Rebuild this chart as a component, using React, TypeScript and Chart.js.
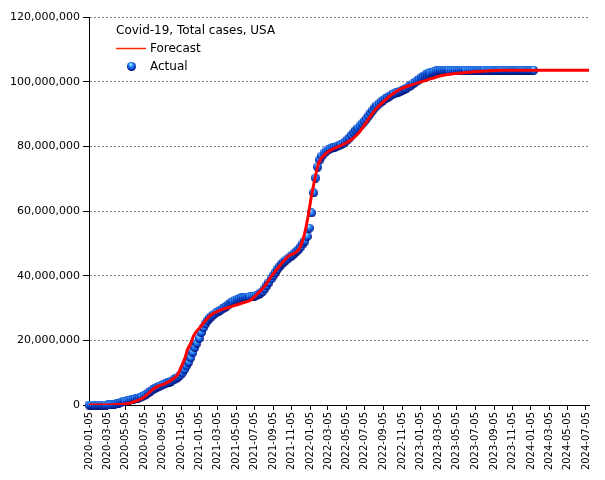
import React, { useEffect, useRef } from "react";
import { Chart, registerables } from "chart.js";

Chart.register(...registerables);

// ---------- data ----------
const X_TICK_LABELS = [
  "2020-01-05", "2020-03-05", "2020-05-05", "2020-07-05", "2020-09-05", "2020-11-05",
  "2021-01-05", "2021-03-05", "2021-05-05", "2021-07-05", "2021-09-05", "2021-11-05",
  "2022-01-05", "2022-03-05", "2022-05-05", "2022-07-05", "2022-09-05", "2022-11-05",
  "2023-01-05", "2023-03-05", "2023-05-05", "2023-07-05", "2023-09-05", "2023-11-05",
  "2024-01-05", "2024-03-05", "2024-05-05", "2024-07-05",
];
const X_MIN_DATE = "2020-01-05";
const X_MAX_DATE = "2024-07-15";
const Y_MAX = 120000000;
const Y_STEP = 20000000;

const LEGEND_TITLE = "Covid-19, Total cases, USA";
const FORECAST_LABEL = "Forecast";
const ACTUAL_LABEL = "Actual";

// Actual: weekly observations (millions of cases) starting on ACTUAL_START
const ACTUAL_START = "2020-01-05";
const ACTUAL_STEP_DAYS = 7;
const ACTUAL_MILLIONS = [
  0, 0, 0, 0, 0, 0, 0, 0, 0, 0.001,
  0.003, 0.03, 0.14, 0.34, 0.56, 0.76, 0.97, 1.16, 1.33, 1.49,
  1.64, 1.79, 1.94, 2.09, 2.28, 2.54, 2.89, 3.3, 3.77, 4.23,
  4.67, 5.05, 5.4, 5.7, 5.99, 6.27, 6.54, 6.82, 7.11, 7.42,
  7.77, 8.15, 8.6, 9.2, 9.95, 10.95, 12.1, 13.2, 14.6, 16.2,
  17.8, 19.1, 20.6, 22.4, 23.9, 25.1, 26.1, 26.9, 27.5, 28.0,
  28.5, 28.9, 29.3, 29.7, 30.1, 30.6, 31.1, 31.6, 32.0, 32.4,
  32.7, 32.9, 33.1, 33.2, 33.3, 33.4, 33.5, 33.6, 33.7, 33.9,
  34.1, 34.6, 35.1, 35.9, 36.9, 37.9, 39.0, 40.0, 41.0, 42.0,
  42.8, 43.6, 44.2, 44.8, 45.3, 45.8, 46.3, 46.9, 47.5, 48.1,
  48.9, 49.8, 50.7, 52.1, 54.7, 59.4, 65.6, 70.2, 73.6, 75.8,
  77.0, 77.9, 78.5, 78.9, 79.2, 79.5, 79.7, 80.0, 80.2, 80.5,
  80.9, 81.4, 82.0, 82.6, 83.4, 84.2, 84.9, 85.6, 86.3, 87.0,
  87.7, 88.5, 89.4, 90.3, 91.1, 91.9, 92.6, 93.2, 93.8, 94.3,
  94.7, 95.1, 95.5, 95.9, 96.2, 96.5, 96.8, 97.1, 97.4, 97.7,
  98.0, 98.4, 98.8, 99.3, 99.8, 100.3, 100.8, 101.3, 101.7, 102.1,
  102.4, 102.7, 102.9, 103.1, 103.3, 103.4, 103.5, 103.5, 103.5, 103.5,
  103.5, 103.5, 103.5, 103.5, 103.5, 103.5, 103.5, 103.5, 103.5, 103.5,
  103.5, 103.5, 103.5, 103.5, 103.5, 103.5, 103.5, 103.5, 103.5, 103.5,
  103.5, 103.5, 103.5, 103.5, 103.5, 103.5, 103.5, 103.5, 103.5, 103.5,
  103.5, 103.5, 103.5, 103.5, 103.5, 103.5, 103.5, 103.5, 103.5, 103.5,
  103.5,
];

// Forecast curve (millions of cases)
const FORECAST_DATES = [
  "2020-01-05", "2020-03-15", "2020-04-15", "2020-05-15", "2020-06-01", "2020-06-28",
  "2020-07-15", "2020-07-31", "2020-08-17", "2020-09-14", "2020-10-11", "2020-10-25",
  "2020-11-03", "2020-11-19", "2020-11-25", "2020-12-06", "2020-12-17", "2021-01-08",
  "2021-02-10", "2021-03-16", "2021-04-18", "2021-05-21", "2021-06-23", "2021-07-16",
  "2021-08-07", "2021-08-29", "2021-09-20", "2021-10-23", "2021-12-01", "2021-12-18",
  "2021-12-29", "2022-01-09", "2022-01-20", "2022-01-31", "2022-02-11", "2022-03-05",
  "2022-04-08", "2022-05-11", "2022-06-13", "2022-07-10", "2022-08-10", "2022-09-10",
  "2022-10-08", "2022-11-04", "2022-12-07", "2023-01-10", "2023-02-12", "2023-03-17",
  "2023-04-20", "2023-06-14", "2023-08-08", "2023-10-03", "2024-07-15",
];
const FORECAST_MILLIONS = [
  0, 0, 0.15, 0.5, 1.0, 2.0,
  3.2, 4.6, 5.7, 6.7, 8.2, 9.5,
  11.4, 15.0, 17.0, 19.0, 21.6, 24.2,
  27.8, 29.4, 30.4, 31.4, 32.5, 34.5,
  36.6, 39.7, 42.3, 45.9, 48.5, 53.1,
  58.2, 64.4, 69.6, 74.2, 76.3, 78.3,
  79.9, 81.4, 84.0, 87.5, 91.5, 94.3,
  96.4, 97.9, 99.0, 100.0, 101.0, 101.9,
  102.4, 102.9, 103.3, 103.5, 103.5,
];

const MILLION = 1000000;

// ---------- helpers ----------
function dayNum(s: string): number {
  const [y, m, d] = s.split("-").map(Number);
  const base = Date.UTC(2020, 0, 5);
  return (Date.UTC(y, m - 1, d) - base) / 86400000;
}

function makeSphere(size: number): HTMLCanvasElement {
  const c = document.createElement("canvas");
  c.width = size;
  c.height = size;
  const g = c.getContext("2d")!;
  const r = size / 2;
  const grad = g.createRadialGradient(r * 0.8, r * 0.45, 0.2, r, r * 0.9, r * 1.05);
  grad.addColorStop(0, "#c8f0ff");
  grad.addColorStop(0.3, "#3cabff");
  grad.addColorStop(0.7, "#1052e0");
  grad.addColorStop(1, "#001070");
  g.fillStyle = grad;
  g.beginPath();
  g.arc(r, r, r, 0, Math.PI * 2);
  g.fill();
  return c;
}

const FONT = '"DejaVu Sans", Verdana, sans-serif';

export default function App() {
  const ref = useRef<HTMLCanvasElement | null>(null);

  useEffect(() => {
    if (!ref.current) return;
    const sphere = makeSphere(9);

    const actualData = ACTUAL_MILLIONS.map((v, i) => ({
      x: dayNum(ACTUAL_START) + i * ACTUAL_STEP_DAYS,
      y: v * MILLION,
    }));
    const forecastData = FORECAST_DATES.map((d, i) => ({
      x: dayNum(d),
      y: FORECAST_MILLIONS[i] * MILLION,
    }));
    const tickValues = X_TICK_LABELS.map(dayNum);

    const legendPlugin = {
      id: "insideLegend",
      afterDatasetsDraw(chart: any) {
        const ctx = chart.ctx as CanvasRenderingContext2D;
        ctx.save();
        ctx.font = `12px ${FONT}`;
        ctx.fillStyle = "#000";
        ctx.textBaseline = "middle";
        ctx.textAlign = "left";
        ctx.fillText(LEGEND_TITLE, 116, 31);
        ctx.strokeStyle = "#ff2a00";
        ctx.lineWidth = 1.5;
        ctx.beginPath();
        ctx.moveTo(116, 48.5);
        ctx.lineTo(146, 48.5);
        ctx.stroke();
        ctx.fillText(FORECAST_LABEL, 150, 48.5);
        ctx.drawImage(sphere, 127, 62);
        ctx.fillText(ACTUAL_LABEL, 150, 66.5);
        ctx.restore();
      },
    };

    const chart = new Chart(ref.current, {
      type: "line",
      data: {
        datasets: [
          {
            label: FORECAST_LABEL,
            data: forecastData,
            borderColor: "#ff0000",
            backgroundColor: "#ff0000",
            borderWidth: 3,
            pointRadius: 0,
            cubicInterpolationMode: "monotone",
            fill: false,
          },
          {
            label: ACTUAL_LABEL,
            data: actualData,
            showLine: false,
            pointStyle: sphere as any,
            pointRadius: 4.5,
            borderColor: "#1052e0",
            backgroundColor: "#1052e0",
            clip: false as any,
          },
        ],
      },
      options: {
        animation: false,
        responsive: false,
        maintainAspectRatio: false,
        layout: { padding: { top: 17, right: 16, left: 0, bottom: 0 } },
        plugins: {
          legend: { display: false },
          tooltip: { enabled: false },
          title: { display: false },
        },
        scales: {
          x: {
            type: "linear",
            min: dayNum(X_MIN_DATE),
            max: dayNum(X_MAX_DATE),
            afterBuildTicks: (scale: any) => {
              scale.ticks = tickValues.map((v) => ({ value: v }));
            },
            afterFit: (scale: any) => {
              scale.height = 75;
            },
            ticks: {
              autoSkip: false,
              maxRotation: 90,
              minRotation: 90,
              padding: 2,
              color: "#000",
              font: { family: FONT, size: 10 },
              callback: (_v: any, i: number) => X_TICK_LABELS[i],
            },
            grid: {
              drawOnChartArea: false,
              drawTicks: true,
              tickLength: 5,
              tickColor: "#000",
              color: "#000",
            },
            border: { display: true, color: "#000", width: 1 },
          },
          y: {
            min: 0,
            max: Y_MAX,
            afterBuildTicks: (scale: any) => {
              const t = [];
              for (let v = 0; v <= Y_MAX; v += Y_STEP) t.push({ value: v });
              scale.ticks = t;
            },
            afterFit: (scale: any) => {
              scale.width = 89;
            },
            ticks: {
              padding: 3,
              color: "#000",
              font: { family: FONT, size: 11 },
              callback: (v: any) => Number(v).toLocaleString("en-US"),
            },
            grid: {
              color: "#808080",
              lineWidth: 1,
              tickLength: 6,
              tickColor: "#000",
              tickBorderDash: [],
            } as any,
            border: { display: true, color: "#000", width: 1, dash: [2, 2] } as any,
          },
        },
      },
      plugins: [legendPlugin],
    });

    return () => chart.destroy();
  }, []);

  return (
    <div style={{ position: "fixed", left: 0, top: 0, width: 605, height: 480, background: "#fff" }}>
      <canvas ref={ref} width={605} height={480} style={{ width: 605, height: 480 }} />
    </div>
  );
}
